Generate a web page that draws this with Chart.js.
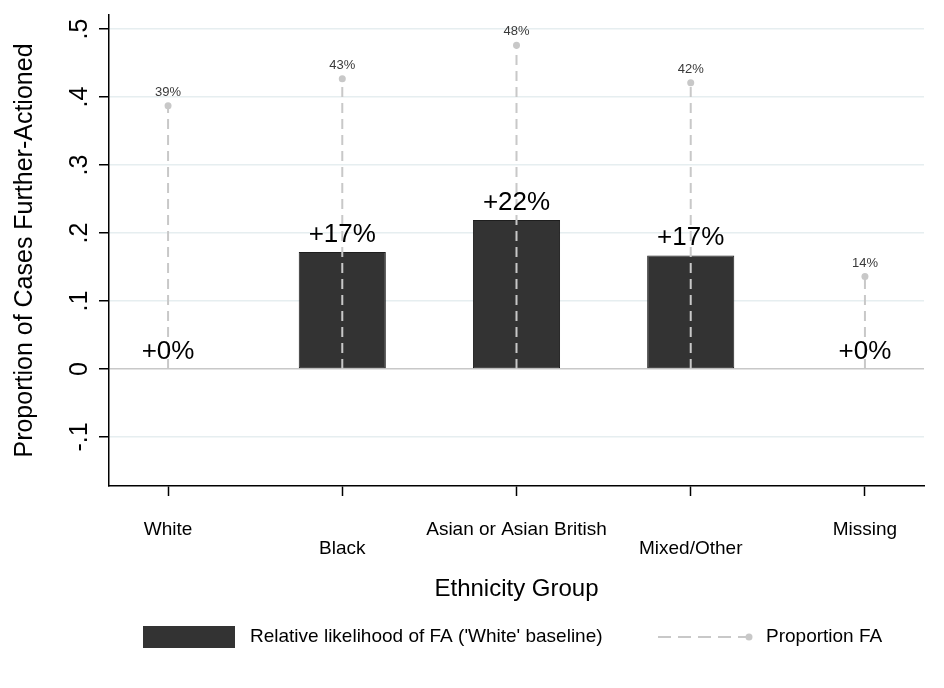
<!DOCTYPE html>
<html>
<head>
<meta charset="utf-8">
<script src="https://cdn.jsdelivr.net/npm/chart.js@4/dist/chart.umd.min.js"></script>
<style>
  html, body { margin: 0; padding: 0; background: #fff; }
  #wrap { width: 944px; height: 688px; position: relative; }
</style>
</head>
<body>
<div id="wrap"><canvas id="c"></canvas></div>
<script>
// Stata-style bar + lollipop: relative likelihood (bars) and proportion FA (dashed stems)
const CATEGORIES = ["White", "Black", "Asian or Asian British", "Mixed/Other", "Missing"];
const RELATIVE_FA = [0, 0.172, 0.219, 0.167, 0];
const PROPORTION_FA = [0.387, 0.427, 0.476, 0.421, 0.136];
const Y_TICKS = [-0.1, 0, 0.1, 0.2, 0.3, 0.4, 0.5];

const FONT = "'Liberation Sans', Arial, sans-serif";
const BAR = "#333333";
const STEM = "#c8c8c8";

// each stem runs from 0 up to its value; a null breaks the line between categories
const stemData = [];
PROPORTION_FA.forEach(function (v, i) {
  stemData.push({ x: i, y: 0 }, { x: i, y: v }, { x: i, y: null });
});

function pct(v) { return Math.round(v * 100) + "%"; }

const valueLabels = {
  id: "valueLabels",
  afterDatasetsDraw(chart) {
    const ctx = chart.ctx;
    ctx.save();
    ctx.textAlign = "center";
    ctx.textBaseline = "alphabetic";
    // big labels above bars
    const bars = chart.getDatasetMeta(0);
    ctx.font = "26px " + FONT;
    ctx.fillStyle = "#000";
    bars.data.forEach(function (el, i) {
      ctx.fillText("+" + pct(RELATIVE_FA[i]), el.x, el.y - 10);
    });
    // small labels above stem tips
    const stems = chart.getDatasetMeta(1);
    ctx.font = "13px " + FONT;
    ctx.fillStyle = "#3a3a3a";
    stems.data.forEach(function (el, k) {
      const raw = stemData[k];
      if (raw.y == null || raw.y === 0) return;
      ctx.fillText(pct(raw.y), el.x, el.y - 10);
    });
    ctx.restore();
  },
};

const stataLegend = {
  id: "stataLegend",
  afterDraw(chart) {
    const ctx = chart.ctx;
    const y = 637;
    ctx.save();
    ctx.fillStyle = BAR;
    ctx.fillRect(143, 626, 92, 22);
    ctx.font = "19px " + FONT;
    ctx.fillStyle = "#000";
    ctx.textBaseline = "middle";
    ctx.fillText("Relative likelihood of FA ('White' baseline)", 250, y);
    ctx.strokeStyle = STEM;
    ctx.lineWidth = 2;
    ctx.setLineDash([13, 7]);
    ctx.beginPath();
    ctx.moveTo(658, y);
    ctx.lineTo(746, y);
    ctx.stroke();
    ctx.setLineDash([]);
    ctx.fillStyle = STEM;
    ctx.beginPath();
    ctx.arc(749, y, 3.5, 0, Math.PI * 2);
    ctx.fill();
    ctx.fillStyle = "#000";
    ctx.fillText("Proportion FA", 766, y);
    ctx.restore();
  },
};

new Chart(document.getElementById("c"), {
  type: "bar",
  data: {
    datasets: [
      {
        label: "Relative likelihood of FA ('White' baseline)",
        data: RELATIVE_FA.map((v, i) => ({ x: i, y: v })),
        backgroundColor: BAR,
        borderColor: "#1e1e1e",
        borderWidth: ctx => (ctx.raw && ctx.raw.y ? 1 : 0),
        borderSkipped: false,
        barPercentage: 0.5,
        categoryPercentage: 1,
        order: 1,
      },
      {
        type: "line",
        label: "Proportion FA",
        data: stemData,
        borderColor: STEM,
        borderWidth: 2,
        borderDash: [10, 6],
        spanGaps: false,
        pointRadius: ctx => (ctx.raw && ctx.raw.y ? 3.5 : 0),
        pointBackgroundColor: STEM,
        pointBorderWidth: 0,
        order: 0,
      },
    ],
  },
  options: {
    responsive: true,
    maintainAspectRatio: false,
    animation: false,
    layout: { padding: { top: 15, right: 20, bottom: 78, left: 0 } },
    plugins: { legend: { display: false }, tooltip: { enabled: false } },
    scales: {
      x: {
        type: "linear",
        min: -0.339,
        max: 4.339,
        offset: false,
        afterBuildTicks: s => { s.ticks = CATEGORIES.map((c, i) => ({ value: i })); },
        afterFit: s => { s.height = 124; s.paddingLeft = 0; s.paddingRight = 0; },
        ticks: {
          autoSkip: false,
          maxRotation: 0,
          padding: 24,
          color: "#000",
          font: { family: FONT, size: 19, lineHeight: 1 },
          callback: (v, i) => (i % 2 ? ["", CATEGORIES[i]] : CATEGORIES[i]),
        },
        grid: { offset: false, drawOnChartArea: false, tickLength: 10, tickColor: "#000", tickWidth: 1.5 },
        border: { color: "#000", width: 1.5 },
        title: {
          display: true,
          text: "Ethnicity Group",
          color: "#000",
          font: { family: FONT, size: 24 },
          padding: { top: 0, bottom: 6 },
        },
      },
      y: {
        min: -0.172,
        max: 0.5206,
        afterBuildTicks: s => { s.ticks = Y_TICKS.map(v => ({ value: v })); },
        // keep the rotated tick labels from pushing the plot area down
        afterFit: s => { s.width = 109; s.paddingTop = 0; s.paddingBottom = 0; },
        ticks: {
          minRotation: 90,
          maxRotation: 90,
          crossAlign: "center",
          padding: 4,
          color: "#000",
          font: { family: FONT, size: 25 },
          callback: v => (v === 0 ? "0" : v.toFixed(1).replace("0.", ".")),
        },
        grid: {
          color: ctx => (ctx.tick && ctx.tick.value === 0 ? "#c8c8c8" : "#e6eef0"),
          lineWidth: 1.5,
          tickLength: 10,
          tickColor: "#000",
          tickWidth: 1.5,
        },
        border: { color: "#000", width: 1.5 },
        title: {
          display: true,
          text: "Proportion of Cases Further-Actioned",
          color: "#000",
          font: { family: FONT, size: 25 },
          padding: { top: 10, bottom: 0 },
        },
      },
    },
  },
  plugins: [valueLabels, stataLegend],
});
</script>
</body>
</html>
